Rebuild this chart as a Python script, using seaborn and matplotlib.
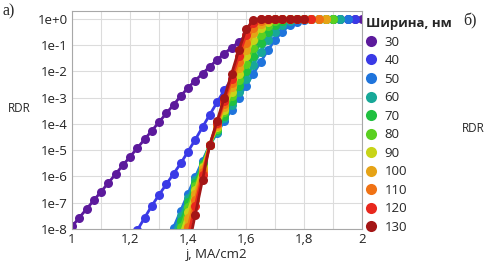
import numpy as np
import pandas as pd
import seaborn as sns
import matplotlib.pyplot as plt
from matplotlib.lines import Line2D
from matplotlib.ticker import FixedLocator, FuncFormatter

# ширина полоски, нм
widths = [30, 40, 50, 60, 70, 80, 90, 100, 110, 120, 130]
colors = ["#5c1a9c", "#3a3ae6", "#1f74dc", "#18a898", "#20c040", "#5ad020",
          "#c8d418", "#e6a316", "#f07214", "#e8281e", "#a41616"]

# first j of every series (step 0.025 MA/cm2)
j_start = [1.0, 1.225, 1.325, 1.35, 1.35, 1.35, 1.375, 1.375, 1.375, 1.4, 1.4]

# log10(RDR)
lg30 = [-7.9, -7.57, -7.24, -6.91, -6.58, -6.25, -5.91, -5.58, -5.25, -4.92,
        -4.59, -4.26, -3.93, -3.6, -3.27, -2.94, -2.62, -2.35, -2.08, -1.82,
        -1.56, -1.32, -1.1, -0.88, -0.62, -0.38, -0.2, -0.08, -0.02,
        0, 0, 0, 0, 0, 0, 0, 0, 0, 0, 0, 0]
lg40 = [-8.05, -7.58, -7.12, -6.7, -6.3, -5.9, -5.5, -5.05, -4.6, -4.12,
        -3.65, -3.18, -2.72, -2.3, -1.9, -1.5, -1.12, -0.78, -0.48, -0.25,
        -0.1, -0.03, 0, 0, 0, 0, 0, 0, 0, 0, 0]
lg50 = [-8.6, -7.95, -7.3, -6.65, -6.02, -5.4, -4.8, -4.35, -3.9, -3.45,
        -3.0, -2.55, -2.1, -1.65, -1.2, -0.8, -0.48, -0.25, -0.1, -0.03,
        0, 0, 0, 0, 0, 0]
lg60 = [-8.16, -7.49, -6.82, -6.15, -5.47, -4.8, -4.29, -3.79, -3.28, -2.78,
        -2.27, -1.76, -1.26, -0.82, -0.48, -0.24, -0.09, -0.02,
        0, 0, 0, 0, 0, 0]
lg70 = [-8.44, -7.71, -6.98, -6.26, -5.53, -4.8, -4.24, -3.68, -3.11, -2.55,
        -1.99, -1.42, -0.9, -0.5, -0.24, -0.09, -0.02,
        0, 0, 0, 0, 0, 0]
lg80 = [-8.73, -7.94, -7.16, -6.37, -5.59, -4.8, -4.18, -3.56, -2.94, -2.32,
        -1.7, -1.1, -0.6, -0.27, -0.09, -0.02,
        0, 0, 0, 0, 0, 0, 0]
lg90 = [-8.2, -7.35, -6.5, -5.65, -4.8, -4.13, -3.45, -2.78, -2.1, -1.43,
        -0.8, -0.35, -0.11, -0.02, 0, 0, 0, 0, 0, 0, 0]
lg100 = [-8.52, -7.59, -6.66, -5.73, -4.8, -4.07, -3.34, -2.61, -1.88, -1.17,
         -0.55, -0.18, -0.04, 0, 0, 0, 0, 0, 0, 0, 0]
lg110 = [-8.96, -7.92, -6.88, -5.84, -4.8, -4.01, -3.23, -2.44, -1.65, -0.9,
         -0.33, -0.08, -0.01, 0, 0, 0, 0, 0, 0, 0]
lg120 = [-8.28, -7.12, -5.96, -4.8, -3.96, -3.11, -2.27, -1.43, -0.62, -0.15,
         -0.02, 0, 0, 0, 0, 0, 0, 0]
lg130 = [-8.78, -7.45, -6.13, -4.8, -3.9, -3.0, -2.1, -1.2, -0.4, -0.05,
         0, 0, 0, 0, 0, 0, 0]

series = [lg30, lg40, lg50, lg60, lg70, lg80, lg90, lg100, lg110, lg120, lg130]

x_ticks = [1.0, 1.2, 1.4, 1.6, 1.8, 2.0]
x_ticklabels = ["1", "1,2", "1,4", "1,6", "1,8", "2"]
y_ticks = [1e-8, 1e-7, 1e-6, 1e-5, 1e-4, 1e-3, 1e-2, 1e-1, 1e0]

rows = []
for w, j0, lg in zip(widths, j_start, series):
    j = np.round(j0 + 0.025 * np.arange(len(lg)), 3)
    for jj, v in zip(j, lg):
        rows.append((w, jj, 10.0 ** v))
df = pd.DataFrame(rows, columns=["w", "j", "RDR"])

sns.set_style("whitegrid", {"grid.color": "#dcdcdc", "axes.edgecolor": "#a8a8a8"})
plt.rcParams["font.family"] = ["Open Sans", "DejaVu Sans"]

fig = plt.figure(figsize=(4.89, 2.66), dpi=100)
ax = fig.add_axes([72 / 489, 37 / 266, 290 / 489, 218 / 266])

sns.lineplot(data=df, x="j", y="RDR", hue="w", hue_order=widths,
             palette=colors, marker="o", markersize=6.5, markeredgewidth=0,
             linewidth=2, estimator=None, sort=False, legend=False, ax=ax)

ax.set_yscale("log")
ax.set_ylim(1e-8, 2.0)
ax.set_xlim(1.0, 2.0)
ax.yaxis.set_major_locator(FixedLocator(y_ticks))
ax.yaxis.set_minor_locator(FixedLocator([]))
ax.yaxis.set_major_formatter(FuncFormatter(lambda v, p: "1e%+d" % round(np.log10(v))))
ax.set_xticks(x_ticks)
ax.set_xticklabels(x_ticklabels)
ax.xaxis.set_minor_locator(FixedLocator([1.1, 1.3, 1.5, 1.7, 1.9]))
ax.grid(True, which="both", color="#dcdcdc", linewidth=0.8)
ax.tick_params(axis="both", length=0, pad=3, labelsize=9.5, colors="#222222")
for s in ax.spines.values():
    s.set_linewidth(0.8)

ax.set_xlabel("j, MA/cm2", fontsize=9.5, labelpad=1)
ax.set_ylabel("")
fig.text(8 / 489, 1 - 109 / 266, "RDR", fontsize=8.5, va="center", ha="left")
fig.text(462 / 489, 1 - 128 / 266, "RDR", fontsize=8.5, va="center", ha="left")
fig.text(3 / 489, 1 - 11 / 266, "а)", fontsize=11.5, va="center", ha="left",
         family=["Liberation Serif", "DejaVu Serif"])
fig.text(463 / 489, 1 - 21 / 266, "б)", fontsize=11.5, va="center", ha="left",
         family=["Liberation Serif", "DejaVu Serif"])

handles = [Line2D([], [], marker="o", linestyle="none", color=c,
                  markersize=8, markeredgewidth=0) for c in colors]
leg = ax.legend(handles, [str(w) for w in widths], title="Ширина, нм",
                loc="upper left", bbox_to_anchor=(366 / 489, 1 - 17 / 266),
                bbox_transform=fig.transFigure, frameon=False, fontsize=9.5,
                handlelength=0.8, handletextpad=0.6, labelspacing=0.42,
                borderpad=0, borderaxespad=0, alignment="left")
leg.get_title().set_fontweight("bold")
leg.get_title().set_fontsize(9.5)

fig.savefig("out.png", dpi=100)
